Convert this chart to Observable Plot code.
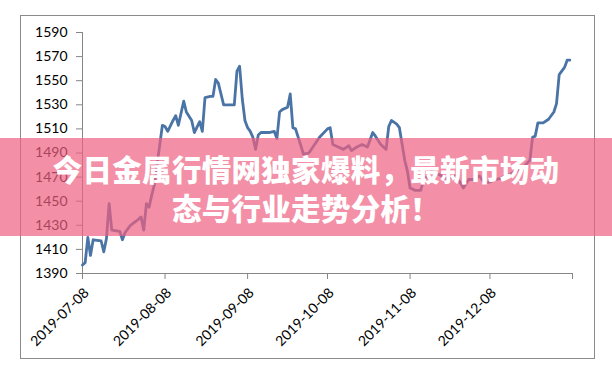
<!DOCTYPE html>
<html>
<head>
<meta charset="utf-8">
<script src="https://cdn.jsdelivr.net/npm/d3@7"></script>
<script src="https://cdn.jsdelivr.net/npm/@observablehq/plot@0.6"></script>
<style>
  html, body { margin: 0; padding: 0; background: #fff; }
  #wrap { position: relative; width: 612px; height: 374px; overflow: hidden; }
  #border {
    position: absolute; left: 20px; top: 15px; width: 575px; height: 344px;
    border: 1px solid #8a8a8a; box-sizing: border-box; pointer-events: none;
  }
  #banner {
    position: absolute; left: 0; top: 138px; width: 612px; height: 98px;
    background: rgba(238, 95, 128, 0.7);
    display: flex; align-items: center; justify-content: center;
  }
  #banner .title {
    color: #fff; text-align: center;
    font-family: "Noto Sans CJK SC", sans-serif; font-weight: 800;
    font-size: 29.5px; line-height: 39px; letter-spacing: 0.3px;
    padding-top: 2px;
  }
</style>
</head>
<body>
<div id="wrap">
  <div id="chart"></div>
  <div id="border"></div>
  <div id="banner"><div class="title">今日金属行情网独家爆料，最新市场动<br>态与行业走势分析！</div></div>
</div>
<script>
// Daily closing prices, Jul 2019 – Jan 2020
const dates = [
  "2019-07-08","2019-07-09","2019-07-10","2019-07-11","2019-07-12","2019-07-15","2019-07-16","2019-07-17",
  "2019-07-18","2019-07-19","2019-07-22","2019-07-23","2019-07-24","2019-07-26","2019-07-29","2019-07-30",
  "2019-07-31","2019-08-01","2019-08-02","2019-08-03","2019-08-04","2019-08-07","2019-08-08","2019-08-09",
  "2019-08-11","2019-08-12","2019-08-13","2019-08-15","2019-08-16","2019-08-18","2019-08-19","2019-08-21",
  "2019-08-22","2019-08-23","2019-08-25","2019-08-26","2019-08-27","2019-08-28","2019-08-30","2019-09-03",
  "2019-09-04","2019-09-05","2019-09-06","2019-09-07","2019-09-08","2019-09-09","2019-09-10","2019-09-11",
  "2019-09-12","2019-09-13","2019-09-16","2019-09-18","2019-09-19","2019-09-20","2019-09-21","2019-09-23",
  "2019-09-24","2019-09-25","2019-09-26","2019-09-29","2019-10-01","2019-10-05","2019-10-08","2019-10-09",
  "2019-10-10","2019-10-11","2019-10-14","2019-10-16","2019-10-17","2019-10-19","2019-10-21","2019-10-23",
  "2019-10-25","2019-10-26","2019-10-28","2019-10-30","2019-10-31","2019-11-01","2019-11-03","2019-11-04",
  "2019-11-06","2019-11-07","2019-11-08","2019-11-10","2019-11-12","2019-11-13","2019-11-14","2019-11-16",
  "2019-11-19","2019-11-21","2019-11-22","2019-11-25","2019-11-27","2019-11-28","2019-11-30","2019-12-02",
  "2019-12-04","2019-12-06","2019-12-08","2019-12-10","2019-12-12","2019-12-15","2019-12-18","2019-12-20",
  "2019-12-23","2019-12-24","2019-12-25","2019-12-26","2019-12-28","2019-12-30","2020-01-01","2020-01-02",
  "2020-01-03","2020-01-05","2020-01-06","2020-01-07"
];
const prices = [
  1397, 1399, 1420, 1405, 1418, 1417, 1408, 1419,
  1448, 1426, 1425, 1418, 1424, 1430, 1435, 1437,
  1426, 1448, 1445, 1455, 1464, 1513, 1512, 1508,
  1517, 1521, 1513, 1533, 1524, 1517, 1507, 1516,
  1508, 1536, 1537, 1537, 1551, 1548, 1530, 1530,
  1558, 1562, 1535, 1517, 1511, 1508, 1503, 1493,
  1505, 1507, 1507, 1508, 1502, 1524, 1526, 1528,
  1539, 1511, 1510, 1489, 1490, 1503, 1510, 1511,
  1497, 1496, 1493, 1496, 1492, 1495, 1497, 1495,
  1507, 1504, 1497, 1493, 1512, 1517, 1514, 1511,
  1484, 1475, 1461, 1459, 1459, 1467, 1470, 1475,
  1472, 1470, 1468, 1471, 1465, 1461, 1468, 1468,
  1471, 1465, 1466, 1468, 1469, 1472, 1475, 1477,
  1484, 1503, 1504, 1515, 1515, 1518, 1524, 1531,
  1555, 1561, 1567, 1567
];

// Axis ticks
const yTicks = [1390, 1410, 1430, 1450, 1470, 1490, 1510, 1530, 1550, 1570, 1590];
const xTickLabels = ["2019-07-08", "2019-08-08", "2019-09-08", "2019-10-08", "2019-11-08", "2019-12-08"];
const xAxisEnd = "2020-01-08";

const parse = d3.utcParse("%Y-%m-%d");
const fmt = d3.utcFormat("%Y-%m-%d");
const series = dates.map((d, i) => ({date: parse(d), price: prices[i]}));
const xTicks = [...xTickLabels, xAxisEnd].map(parse);
const labelSet = new Set(xTickLabels);
const axisGray = "#868686";

const chart = Plot.plot({
  width: 612,
  height: 374,
  marginLeft: 82,
  marginRight: 40,
  marginTop: 32,
  marginBottom: 101,
  style: {fontFamily: "Lato, sans-serif", fontSize: "14px", background: "transparent", color: "#000"},
  x: {type: "utc", domain: [parse(xTickLabels[0]), parse(xAxisEnd)]},
  y: {domain: [1390, 1590]},
  marks: [
    Plot.ruleY([1390], {stroke: axisGray}),
    Plot.ruleX([parse(xTickLabels[0])], {stroke: axisGray}),
    Plot.axisY({ticks: yTicks, tickSize: 6, tickPadding: 9, stroke: axisGray, fill: "#000", label: null, tickFormat: d => String(d)}),
    Plot.axisX({
      ticks: xTicks, tickSize: 6, tickPadding: 4, tickRotate: -45,
      stroke: axisGray, fill: "#000", label: null,
      tickFormat: d => labelSet.has(fmt(d)) ? fmt(d) : ""
    }),
    Plot.line(series, {x: "date", y: "price", stroke: "#4a74a6", strokeWidth: 2.8, strokeLinejoin: "round"})
  ]
});

// Nudge the rotated date labels so each one ends just below-right of its tick
d3.select(chart).selectAll("g[aria-label='x-axis tick label'] text")
  .each(function() {
    const t = d3.select(this);
    t.attr("transform", `translate(4,7) ${t.attr("transform") || ""}`);
  });

document.getElementById("chart").appendChild(chart);
</script>
</body>
</html>
